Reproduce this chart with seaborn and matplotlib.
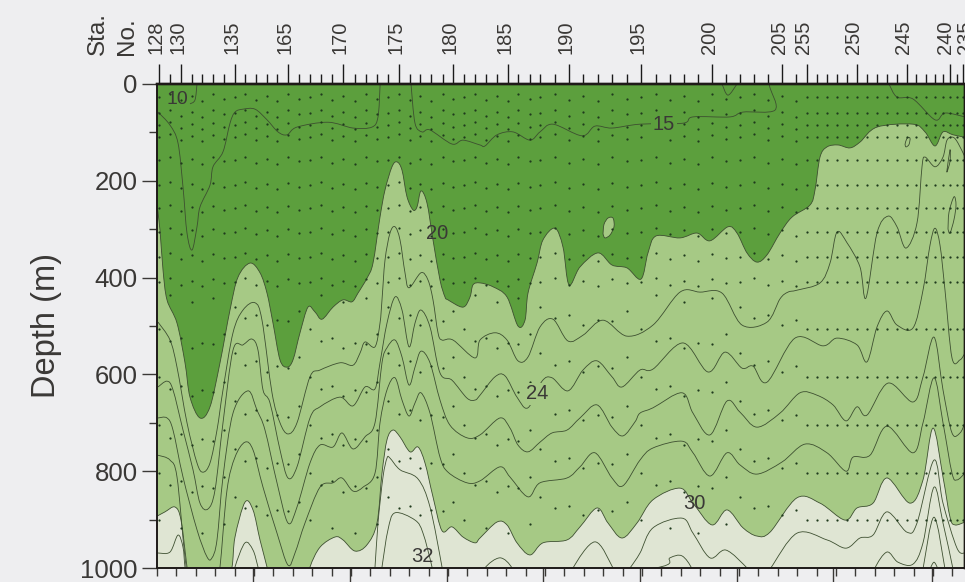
#!/usr/bin/env python3
# -*- coding: utf-8 -*-
"""Section plot: depth of the isolines along the cruise track."""

import pandas as pd
import numpy as np
import matplotlib
matplotlib.use('Agg')
import matplotlib.pyplot as plt
from matplotlib.patches import PathPatch
from matplotlib.path import Path
from matplotlib.transforms import ScaledTranslation
import seaborn as sns

# Stations along the track (distance, same unit as the bottom axis)
station_dist = [2, 13, 24, 35, 45, 56, 67, 78, 88, 99, 110, 120, 131, 142, 153, 164, 175, 186, 198, 209,
                220, 231, 242, 253, 263, 274, 286, 296, 307, 318, 329, 340, 351, 361, 373, 383, 398, 412,
                426, 441, 455, 470, 484, 499, 513, 527, 541, 555, 569, 583, 597, 611, 625, 639, 650, 660,
                670, 680, 690, 700, 710, 720, 730, 740, 750, 759, 769, 778, 786, 793, 800, 806]
labelled_dist = [2, 24, 78, 131, 186, 242, 296, 351, 412, 484, 555, 625, 650, 700, 750, 793, 806]
labelled_sta = ['128', '130', '135', '165', '170', '175', '180', '185', '190', '195', '200', '205',
                '255', '250', '245', '240', '235']

# Sample depths (m)
shallow_rows = [27, 60, 85, 110, 157, 209, 257, 305, 357, 409]
deep_rows_a = [507, 605, 705, 803, 900]
deep_rows_b = [460, 555, 655, 755, 853]
row_wobble = [0, -12, 9, -5, 14, -9, 5]

# 20 isoline, lower edge of the dark band
x20 = [0, 3, 6, 10, 20, 28, 33, 43, 53, 63, 73, 81, 93, 103, 110, 116, 123, 130, 136, 143, 151, 158, 165, 176,
       186, 195, 201, 210, 216, 223, 228, 235, 240, 245, 250, 256, 260, 264, 270, 276, 283, 288, 291, 306, 313,
       316, 323, 336, 350, 361, 368, 371, 380, 386, 398, 406, 412, 423, 441, 455, 470, 484, 491, 499, 523, 540,
       553, 571, 580, 590, 600, 610, 623, 635, 653, 658, 663, 670, 681, 693, 703, 720, 756, 768, 778, 786, 796, 808]
d20 = [250, 302, 384, 446, 494, 576, 647, 690, 667, 576, 467, 399, 370, 390, 432, 494, 570, 585, 570, 514, 461, 471, 486, 461,
       446, 450, 432, 401, 370, 275, 219, 171, 161, 178, 233, 260, 254, 221, 246, 322, 405, 440, 446, 461, 440,
       415, 411, 419, 440, 500, 488, 432, 370, 322, 298, 337, 415, 378, 349, 374, 380, 403, 349, 314, 318, 308,
       324, 295, 308, 349, 368, 353, 308, 275, 250, 219, 151, 130, 126, 132, 120, 89, 83, 99, 128, 99, 105, 110]

# Detached patch of the 20 isoline
x20_patch = [446, 447, 451, 456, 457, 453, 448, 446]
d20_patch = [310, 290, 277, 277, 295, 312, 318, 310]

# 30 isoline, upper edge of the pale band (1045 = below the section)
x30 = [0, 8, 18, 24, 30, 33, 68, 75, 78, 88, 96, 103, 110, 115, 148, 153, 163, 178, 186, 198, 210, 220, 225, 230, 236,
       243, 253, 261, 268, 276, 285, 295, 306, 318, 323, 340, 350, 360, 373, 386, 410, 423, 440, 451, 465, 480, 496,
       523, 536, 555, 570, 586, 600, 613, 640, 663, 688, 700, 716, 730, 753, 766, 776, 786, 793, 798, 808]
d30 = [893, 884, 874, 901, 998, 1045, 1045, 998, 936, 864, 880, 942, 998, 1045, 1045, 998, 957, 936, 942, 965, 952, 907, 804, 735, 715,
       729, 760, 750, 783, 853, 923, 915, 936, 948, 938, 905, 911, 948, 973, 948, 942, 915, 876, 907, 938, 907, 859,
       835, 866, 911, 880, 917, 934, 926, 855, 866, 901, 876, 866, 814, 866, 818, 711, 812, 895, 911, 905]

# Thin isolines inside the middle band
x22 = [1, 13, 20, 30, 40, 46, 53, 60, 66, 76, 86, 98, 105, 115, 123, 131, 140, 153, 163, 183, 196, 203, 208, 218, 223,
       225, 228, 233, 238, 243, 248, 252, 264, 271, 276, 281, 285, 296, 318, 323, 338, 350, 361, 371, 383, 396, 411,
       426, 446, 470, 496, 523, 543, 565, 585, 610, 623, 631, 640, 663, 673, 680, 690, 703, 709, 720, 731, 740, 749,
       760, 765, 768, 778, 786, 790, 796, 801, 808]
d22 = [492, 529, 585, 700, 783, 802, 783, 715, 632, 514, 467, 452, 488, 638, 700, 723, 700, 605, 591, 576, 581, 556, 533, 543, 494,
       446, 364, 308, 295, 322, 390, 421, 390, 405, 446, 514, 529, 529, 566, 529, 514, 529, 572, 564, 502, 486, 531,
       519, 488, 521, 498, 430, 430, 432, 498, 492, 444, 430, 426, 411, 370, 306, 328, 378, 442, 308, 273, 295, 339,
       287, 171, 151, 171, 151, 116, 110, 122, 151]

x24 = [1, 10, 16, 26, 36, 43, 51, 58, 66, 76, 86, 95, 101, 106, 113, 123, 131, 140, 153, 163, 183, 196, 208, 218, 223,
       230, 238, 245, 252, 258, 264, 273, 283, 295, 310, 318, 323, 338, 348, 360, 371, 385, 395, 411, 426, 440, 455,
       465, 483, 496, 526, 551, 568, 585, 596, 610, 638, 666, 680, 700, 710, 720, 730, 740, 756, 766, 773, 778, 783,
       788, 795, 803, 808]
d24 = [626, 614, 632, 715, 797, 866, 878, 839, 700, 550, 539, 527, 550, 632, 659, 756, 814, 791, 690, 667, 647, 665, 626, 630, 576,
       494, 440, 467, 543, 494, 467, 502, 597, 612, 649, 653, 643, 605, 603, 647, 669, 614, 607, 634, 591, 572, 605,
       626, 591, 589, 535, 595, 554, 587, 583, 616, 525, 541, 525, 539, 574, 502, 469, 498, 504, 426, 333, 298, 333,
       426, 566, 570, 556]

x26 = [1, 10, 16, 26, 40, 50, 55, 60, 66, 76, 91, 100, 108, 120, 131, 140, 153, 163, 176, 185, 196, 208, 218, 225, 230,
       238, 245, 252, 258, 264, 273, 283, 293, 310, 323, 343, 353, 361, 371, 383, 395, 410, 423, 440, 455, 466, 478,
       483, 496, 525, 536, 553, 570, 583, 600, 623, 643, 660, 676, 689, 700, 710, 731, 756, 766, 777, 786, 795, 803, 808]
d26 = [690, 690, 715, 812, 921, 977, 979, 942, 812, 680, 634, 674, 715, 824, 907, 874, 783, 746, 750, 721, 754, 729, 700, 576, 545,
       529, 564, 622, 585, 552, 576, 653, 705, 731, 725, 690, 711, 746, 760, 740, 721, 715, 690, 663, 709, 727, 698,
       680, 669, 638, 680, 725, 655, 678, 709, 680, 638, 643, 663, 696, 667, 684, 618, 657, 605, 523, 632, 721, 721, 700]

x28 = [1, 13, 20, 28, 33, 60, 63, 70, 78, 88, 96, 106, 120, 131, 138, 148, 163, 176, 185, 196, 206, 218, 223, 230, 238,
       245, 252, 258, 264, 273, 283, 291, 310, 323, 343, 353, 371, 383, 410, 423, 438, 455, 466, 483, 496, 525, 536,
       553, 570, 583, 600, 625, 648, 670, 689, 696, 713, 730, 756, 766, 777, 786, 795, 800, 808]
d28 = [767, 777, 812, 977, 1010, 1010, 998, 839, 771, 740, 756, 833, 928, 994, 969, 907, 833, 824, 814, 841, 833, 804, 700, 632, 607,
       653, 686, 659, 638, 680, 771, 802, 824, 820, 791, 812, 853, 824, 814, 791, 762, 814, 830, 777, 752, 738, 762,
       810, 762, 787, 806, 781, 744, 762, 800, 771, 767, 707, 762, 700, 607, 700, 804, 818, 804]

# Thin isolines inside the pale band (1030 = below the section)
x31 = [1, 13, 21, 26, 28, 31, 76, 78, 88, 96, 101, 105, 216, 218, 221, 226, 230, 233, 243, 261, 273, 285, 287, 414, 416,
       438, 456, 462, 473, 483, 496, 525, 536, 553, 569, 591, 602, 613, 640, 670, 689, 703, 716, 730, 750, 760, 777,
       786, 800, 808]
d31 = [969, 967, 932, 957, 998, 1030, 1030, 998, 948, 963, 998, 1030, 1030, 998, 907, 812, 773, 773, 797, 816, 874, 998, 1030, 1030, 1000,
       946, 1000, 1030, 1000, 969, 917, 897, 928, 979, 963, 1002, 1030, 1002, 928, 942, 959, 938, 932, 884, 926, 907, 777,
       866, 959, 969]

x32 = [223, 225, 231, 238, 258, 266, 275, 277, 326, 328, 343, 355, 357, 366, 498, 513, 525, 535, 537, 716, 718, 730, 741,
       756, 766, 777, 786, 796, 798]
d32 = [1030, 998, 921, 886, 901, 928, 998, 1030, 1030, 1000, 979, 1000, 1030, 1030, 1000, 979, 975, 1002, 1030, 1030, 1000, 967, 988,
       992, 948, 833, 907, 1002, 1030]

x33 = [766, 777, 788]
d33 = [1002, 895, 1002]
x34 = [773, 777, 781]
d34 = [1002, 988, 1002]

# 15 isoline, three pieces and the small closed bits near the surface
x15_a = [1, 13, 21, 26, 30, 35, 40, 43, 53, 56, 66, 73, 78, 86, 98, 110, 121, 130, 140, 171, 196, 215, 221, 223, 223]
d15_a = [58, 85, 122, 213, 308, 343, 295, 254, 209, 171, 140, 81, 58, 52, 52, 74, 99, 105, 89, 79, 91, 89, 68, 6, 0]
x15_b = [254, 258, 265, 273, 295, 306, 323, 328, 340, 356, 373, 383, 396, 425, 438, 455, 483, 526, 536, 573, 586, 618, 613, 612]
d15_b = [0, 81, 99, 95, 124, 116, 126, 128, 105, 99, 116, 99, 83, 107, 87, 91, 83, 81, 68, 68, 58, 54, 8, 0]
x15_c = [732, 740, 756, 778, 788, 808]
d15_c = [0, 27, 31, 74, 60, 68]
x_bit_a = [565, 571, 580]
d_bit_a = [0, 23, 0]
x_bit_b = [40, 38, 33]
d_bit_b = [0, 33, 41]
x_bit_c = [748, 750, 753, 752, 749, 748]
d_bit_c = [125, 112, 112, 125, 130, 125]
x_bit_d = [791, 792, 797, 799, 797, 793, 791]
d_bit_d = [300, 265, 233, 250, 280, 308, 300]
x_bit_e = [790, 793, 793, 790, 790]
d_bit_e = [178, 136, 160, 182, 178]

# Ticks
depth_major = [0, 200, 400, 600, 800, 1000]
depth_minor = [100, 300, 500, 700, 900]
bottom_major = [96, 193, 290, 386, 483, 580, 676, 775]

line_sets = [(x15_a, d15_a), (x15_b, d15_b), (x15_c, d15_c), (x_bit_a, d_bit_a), (x_bit_b, d_bit_b),
             (x_bit_c, d_bit_c), (x_bit_d, d_bit_d), (x_bit_e, d_bit_e), (x20, d20), (x20_patch, d20_patch),
             (x22, d22), (x24, d24), (x26, d26), (x28, d28), (x30, d30), (x31, d31), (x32, d32), (x33, d33), (x34, d34)]

# Colours
DARK = '#5c9f3d'
MID = '#a6c985'
PALE = '#dfe5d3'
PAPER = '#eeeef0'
INK = '#3a3836'


def curve_segments(xs, ds):
    """Bezier pieces that pass through every read point."""
    pts = np.column_stack([xs, ds]).astype(float)
    verts, codes = [pts[0]], [Path.MOVETO]
    for i in range(len(pts) - 1):
        before = pts[max(i - 1, 0)]
        after = pts[min(i + 2, len(pts) - 1)]
        verts += [pts[i] + (pts[i + 1] - before) / 6, pts[i + 1] - (after - pts[i]) / 6, pts[i + 1]]
        codes += [Path.CURVE4] * 3
    return verts, codes


def draw_isoline(ax, xs, ds):
    verts, codes = curve_segments(xs, ds)
    ax.add_patch(PathPatch(Path(verts, codes), fill=False, edgecolor='#3d4f30', linewidth=0.6, zorder=2))


def fill_band(ax, xs, ds, edge_depth, colour):
    """Fill from the curve to a flat depth (surface or below the section)."""
    verts, codes = curve_segments(xs, ds)
    verts += [(xs[-1], edge_depth), (xs[0], edge_depth), verts[0]]
    codes += [Path.LINETO, Path.LINETO, Path.CLOSEPOLY]
    ax.add_patch(PathPatch(Path(verts, codes), facecolor=colour, edgecolor='none', linewidth=0, zorder=1))


sns.set_theme(style='ticks')
plt.rcParams['font.family'] = ['Liberation Sans', 'DejaVu Sans']

fig = plt.figure(figsize=(9.65, 5.82), dpi=100, facecolor=PAPER)
ax = fig.add_axes([157 / 965, 1 - 568 / 582, 807 / 965, 484 / 582], facecolor=MID)
ax.set_xlim(0, 807)
ax.set_ylim(1000, 0)

# Colour bands
fill_band(ax, x20, d20, 0, DARK)
fill_band(ax, x30, d30, 1100, PALE)
verts, codes = curve_segments(x20_patch, d20_patch)
ax.add_patch(PathPatch(Path(verts, codes), facecolor=MID, edgecolor='none', zorder=1.2))

# Isolines
for xs, ds in line_sets:
    draw_isoline(ax, xs, ds)

# Sample points
dots = []
for i, x in enumerate(station_dist):
    w = row_wobble[i % len(row_wobble)] if x < 650 else 0
    for d in shallow_rows:
        dots.append((x, d + w * 0.6))
    if x < 650:
        for d in (deep_rows_a if i % 2 == 0 else deep_rows_b):
            dots.append((x, d + w * 2))
    else:
        for d in deep_rows_a:
            dots.append((x, d))
dots = pd.DataFrame(dots, columns=['dist', 'depth'])
sns.scatterplot(data=dots, x='dist', y='depth', ax=ax, s=2.6, color='#1f3a1d', linewidth=0, zorder=3)
ax.set_xlabel('')
ax.set_ylabel('')

# Contour numbers
ax.text(20, 31, '10', fontsize=14, color=INK, ha='center', va='center', zorder=5)
ax.text(507, 83, '15', fontsize=14.5, color=INK, ha='center', va='center', zorder=5,
        bbox=dict(facecolor=DARK, edgecolor='none', pad=1.5))
ax.text(280, 308, '20', fontsize=14.5, color=INK, ha='center', va='center', zorder=5)
ax.text(380, 640, '24', fontsize=14.5, color=INK, ha='center', va='center', zorder=5,
        bbox=dict(facecolor=MID, edgecolor='none', pad=1))
ax.text(537, 866, '30', fontsize=14.5, color=INK, ha='center', va='center', zorder=5)
ax.text(265, 977, '32', fontsize=14.5, color=INK, ha='center', va='center', zorder=5)

# Left and bottom axes
ax.set_yticks(depth_major)
ax.set_yticks(depth_minor, minor=True)
ax.set_xticks(bottom_major)
ax.set_xticks(np.arange(0, 807, 19.4), minor=True)
ax.set_xticklabels([])
ax.tick_params(axis='y', which='major', length=11, width=1.0, color=INK, labelsize=18.5, labelcolor=INK, pad=3)
ax.tick_params(axis='y', which='minor', length=5.5, width=1.0, color=INK)
ax.tick_params(axis='x', which='major', length=11, width=1.0, color=INK)
ax.tick_params(axis='x', which='minor', length=5.5, width=1.0, color=INK)

# Station axis on top
top = ax.twiny()
top.set_xlim(0, 807)
top.set_xticks(labelled_dist)
top.set_xticklabels(labelled_sta, rotation=90, fontsize=14.5, color=INK)
top.set_xticks(station_dist, minor=True)
top.tick_params(axis='x', which='major', length=14.5, width=1.0, color='#1a1a1a', pad=7)
top.tick_params(axis='x', which='minor', length=7, width=1.0, color='#1a1a1a')
label_shift = [-3] * 15 + [-5, 3]
for lab, px in zip(top.get_xticklabels(), label_shift):
    lab.set_transform(lab.get_transform() + ScaledTranslation(px / 100, 0, fig.dpi_scale_trans))
    lab.set_ha('center')

for a in (ax, top):
    for side, lw in dict(top=1.7, bottom=1.2, left=1.2, right=1.0).items():
        a.spines[side].set_linewidth(lw)
        a.spines[side].set_color('#1e1a18')
        a.spines[side].set_visible(True)

# Axis titles
fig.text(46 / 965, 1 - 326 / 582, 'Depth (m)', rotation=90, fontsize=23.5, color=INK, ha='center', va='center')
fig.text(98 / 965, 1 - 55 / 582, 'Sta.', rotation=90, fontsize=17.5, color=INK, ha='center', va='bottom')
fig.text(127 / 965, 1 - 55 / 582, 'No.', rotation=90, fontsize=17.5, color=INK, ha='center', va='bottom')

fig.savefig('out.png', dpi=100, facecolor=PAPER)
plt.close(fig)
